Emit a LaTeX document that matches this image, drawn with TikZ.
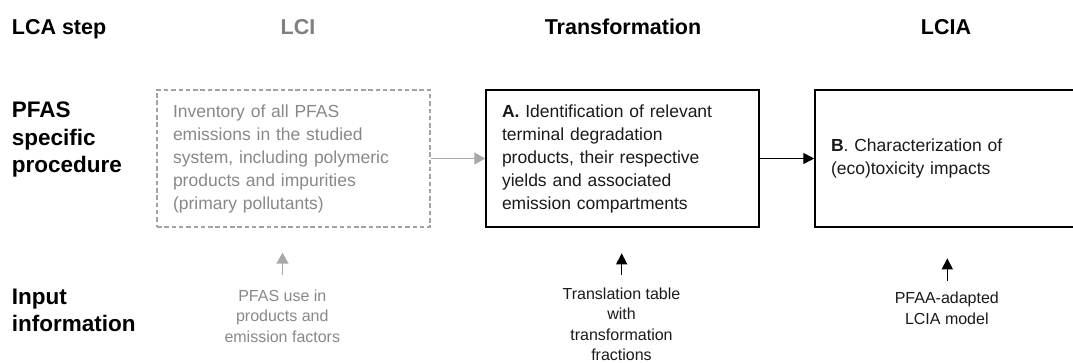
\documentclass[tikz,border=0pt]{standalone}
\usepackage{fontspec}
\setmainfont{Liberation Sans}
\usetikzlibrary{arrows.meta}
\definecolor{hdrgray}{HTML}{7F7F7F}
\definecolor{txtgray}{HTML}{888888}
\definecolor{dashgray}{HTML}{A3A3A3}
\definecolor{arrgray}{HTML}{A8A8A8}
\definecolor{ink}{HTML}{1A1A1A}
\tikzset{
  rowlabel/.style={font=\fontsize{22.5}{27.5}\selectfont\bfseries, inner sep=0pt, align=left, anchor=north west, text=black},
  colhead/.style={font=\fontsize{21.5}{26}\selectfont\bfseries, inner sep=0pt, anchor=base},
  procbox/.style={draw=black, line width=1.5pt, text=ink, font=\fontsize{17.5}{23}\selectfont,
    text width=241pt, inner xsep=16pt, inner ysep=0pt, minimum height=137pt, align=left},
  lcibox/.style={procbox, draw=dashgray, line width=1.2pt, dash pattern=on 4.5pt off 2.8pt, text=txtgray},
  inputtext/.style={font=\fontsize{16}{20.5}\selectfont, inner sep=0pt, align=center, anchor=north, text=ink},
  blackarrow/.style={line width=1.4pt, draw=black, -{Triangle[length=11pt,width=11pt]}},
  grayarrow/.style={line width=1.4pt, draw=arrgray, -{Triangle[length=11pt,width=12pt]}},
}
\begin{document}
\begin{tikzpicture}[x=1pt,y=1pt]
\clip (0,0) rectangle (1073,-363);
\useasboundingbox (0,0) rectangle (1073,-363);
% column headers
\node[colhead, anchor=base west] (hstep) at (11.7,-34.5) {LCA step};
\node[colhead, text=hdrgray] (hlci) at (298,-34.5) {LCI};
\node[colhead] (htr) at (623,-34.5) {Transformation};
\node[colhead] (hlcia) at (946,-34.5) {LCIA};
% row labels
\node[rowlabel] (rproc) at (11.7,-101.7) {PFAS\\specific\\procedure};
\node[rowlabel] (rinput) at (11.7,-288.8) {Input\\information};
% boxes
\node[lcibox] (lci) at (293.5,-158.5) {Inventory of all PFAS\\emissions in the studied\\system, including polymeric\\products and impurities\\(primary pollutants)};
\node[procbox] (boxA) at (622.5,-158.5) {\textbf{A.} Identification of relevant\\terminal degradation\\products, their respective\\yields and associated\\emission compartments};
\node[procbox] (boxB) at (951.5,-158.5) {\textbf{B}. Characterization of\\(eco)toxicity impacts};
% connectors between boxes
\draw[grayarrow] (lci.east) -- (boxA.west);
\draw[blackarrow] (boxA.east) -- (boxB.west);
% input information
\node[inputtext, text=txtgray] (in1) at (282.3,-289.3) {PFAS use in\\products and\\emission factors};
\node[inputtext] (in2) at (621.5,-287.5) {Translation table\\with\\transformation\\fractions};
\node[inputtext] (in3) at (946.8,-292) {PFAA-adapted\\LCIA model};
\coordinate (a1s) at (282.5,-275);
\coordinate (a1e) at (282.5,-252.7);
\coordinate (a2s) at (621.7,-275);
\coordinate (a2e) at (621.7,-253.3);
\coordinate (a3s) at (947.3,-280.7);
\coordinate (a3e) at (947.3,-258.3);
\draw[grayarrow] (a1s) -- (a1e);
\draw[blackarrow] (a2s) -- (a2e);
\draw[blackarrow] (a3s) -- (a3e);
\end{tikzpicture}
\end{document}
